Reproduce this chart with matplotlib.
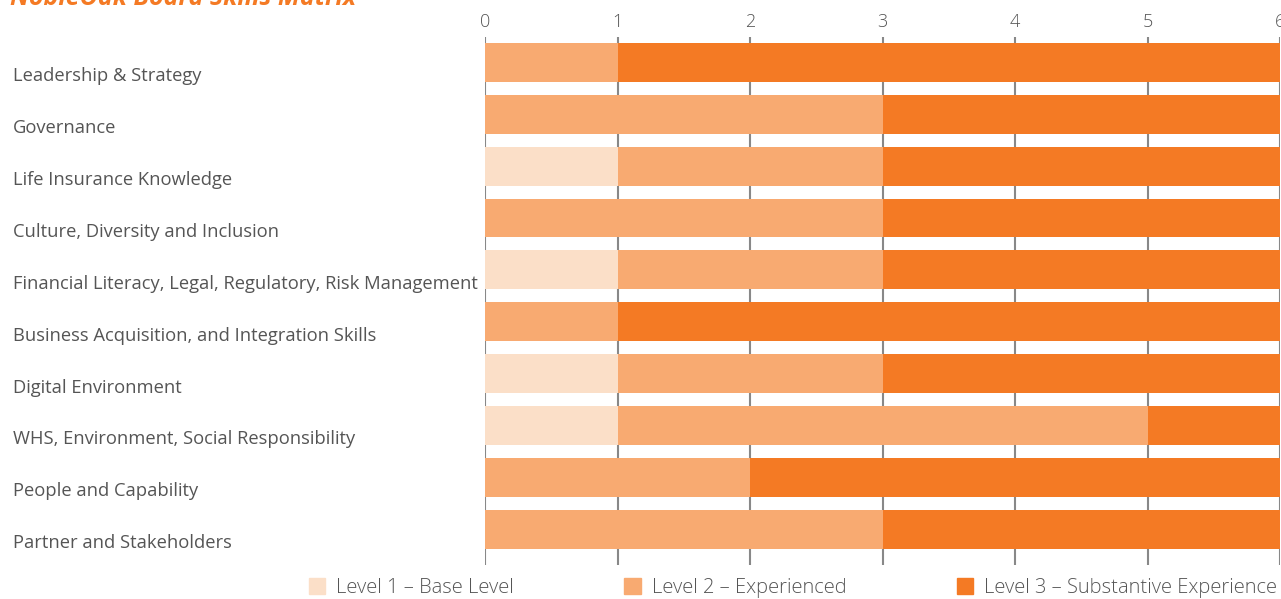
import matplotlib
matplotlib.use("Agg")
import matplotlib.pyplot as plt
import matplotlib.transforms as mtransforms
import numpy as np
from matplotlib.patches import Patch

plt.rcParams['font.family'] = ['Open Sans', 'DejaVu Sans']

# Skills and number of directors at each level
skills = [
    "Leadership & Strategy",
    "Governance",
    "Life Insurance Knowledge",
    "Culture, Diversity and Inclusion",
    "Financial Literacy, Legal, Regulatory, Risk Management",
    "Business Acquisition, and Integration Skills",
    "Digital Environment",
    "WHS, Environment, Social Responsibility",
    "People and Capability",
    "Partner and Stakeholders",
]
level1 = [0, 0, 1, 0, 1, 0, 1, 1, 0, 0]
level2 = [1, 3, 2, 3, 2, 1, 2, 4, 2, 3]
level3 = [5, 3, 3, 3, 3, 5, 3, 1, 4, 3]

level_names = ["Level 1 \u2013 Base Level", "Level 2 \u2013 Experienced",
               "Level 3 \u2013 Substantive Experience"]
colors = ["#FBDFC8", "#F8AA71", "#F47A24"]
text_grey = "#555555"

fig = plt.figure(figsize=(12.81, 5.99), dpi=100)
ax = fig.add_axes([485 / 1281, 34 / 599, 795 / 1281, 528 / 599])

y = np.arange(len(skills))
l1 = np.array(level1)
l2 = np.array(level2)
l3 = np.array(level3)
ax.barh(y, l1, height=0.75, color=colors[0], zorder=2)
ax.barh(y, l2, left=l1, height=0.75, color=colors[1], zorder=2)
ax.barh(y, l3, left=l1 + l2, height=0.75, color=colors[2], zorder=2)

ax.set_xlim(0, 6)
ax.set_ylim(9.69, -0.49)
ax.set_xticks(range(7))
ax.xaxis.tick_top()
ax.tick_params(axis='x', length=0, pad=4, labelsize=13, labelcolor=text_grey)
for lab in ax.get_xticklabels():
    lab.set_fontweight('light')
ax.grid(axis='x', color='#888888', linewidth=1.5, zorder=0)
ax.set_axisbelow(True)

# labels sit a little below the bar centre
shift = mtransforms.ScaledTranslation(0, -12 / 100, fig.dpi_scale_trans)
ax.set_yticks(y)
ax.set_yticklabels(skills, fontsize=13.2, color=text_grey, ha='left')
ax.tick_params(axis='y', length=0, pad=340)
for lab in ax.get_yticklabels():
    lab.set_transform(lab.get_transform() + shift)

for s in ax.spines.values():
    s.set_visible(False)

fig.text(10 / 1281, 1 - 5 / 599, "NobleOak Board Skills Matrix", fontsize=18,
         fontweight='bold', fontstyle='italic', color="#F47A24", va='baseline')

handles = [Patch(color=c) for c in colors]
leg = fig.legend(handles, level_names, loc='center', bbox_to_anchor=(793 / 1281, 1 - 588 / 599),
                 ncol=3, frameon=False, fontsize=14.5, handlelength=0.8, handleheight=0.8,
                 handletextpad=0.55, columnspacing=5.5, labelcolor=text_grey)
for t in leg.get_texts():
    t.set_fontweight('light')

fig.savefig("out.png", dpi=100)
